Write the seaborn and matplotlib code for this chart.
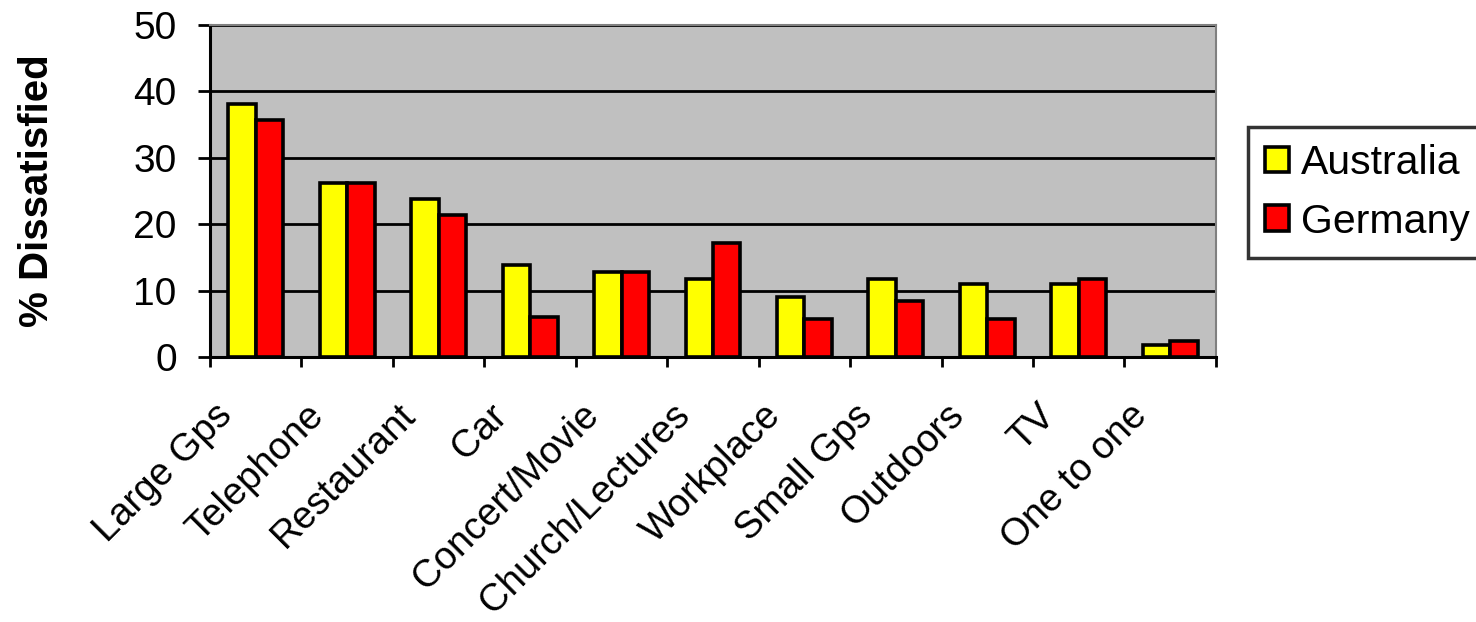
import matplotlib
matplotlib.use("Agg")
import matplotlib.pyplot as plt
import matplotlib.transforms as mtransforms
import numpy as np
import pandas as pd
import seaborn as sns

# Survey results: share of respondents dissatisfied with hearing in each situation
locations = ["Large Gps", "Telephone", "Restaurant", "Car", "Concert/Movie",
             "Church/Lectures", "Workplace", "Small Gps", "Outdoors", "TV",
             "One to one"]
australia = [38.1, 26.2, 23.8, 13.8, 12.8, 11.8, 9.0, 11.8, 11.0, 11.0, 1.8]
germany = [35.7, 26.2, 21.4, 6.1, 12.8, 17.1, 5.7, 8.5, 5.7, 11.8, 2.4]
countries = ["Australia", "Germany"]
y_ticks = [0, 10, 20, 30, 40, 50]

df = pd.DataFrame({
    "Location": locations * 2,
    "Dissatisfied": australia + germany,
    "Country": [countries[0]] * len(locations) + [countries[1]] * len(locations),
})

sns.set_style("white")
plt.rcParams["font.family"] = ["Liberation Sans", "DejaVu Sans"]
plt.rcParams["text.color"] = "black"
plt.rcParams["axes.labelcolor"] = "black"
plt.rcParams["xtick.color"] = "black"
plt.rcParams["ytick.color"] = "black"

fig = plt.figure(figsize=(14.76, 6.22), dpi=100)
ax = fig.add_axes([0.1423, 0.426, 0.8238 - 0.1423, 0.9598 - 0.426])
ax.set_facecolor("#C0C0C0")

sns.barplot(data=df, x="Location", y="Dissatisfied", hue="Country",
            hue_order=countries, order=locations,
            palette=["#FFFF00", "#FF0000"], saturation=1, width=0.6,
            edgecolor="black", linewidth=2.6, ax=ax, zorder=3)

ax.set_ylim(0, 50)
ax.set_xlim(-0.5, len(locations) - 0.5)
ax.set_yticks(y_ticks)
ax.yaxis.grid(True, color="black", linewidth=2)
ax.xaxis.grid(False)
ax.set_axisbelow(True)

for side in ["left", "bottom"]:
    ax.spines[side].set_color("black")
    ax.spines[side].set_linewidth(2.2)
for side in ["top", "right"]:
    ax.spines[side].set_color("#808080")
    ax.spines[side].set_linewidth(1.5)

# Category separators as outward tick marks
ax.set_xticks(np.arange(-0.5, len(locations), 1.0), minor=True)
ax.tick_params(axis="x", which="minor", length=7.5, width=2, direction="out",
               color="black", bottom=True)
ax.tick_params(axis="x", which="major", length=0, pad=29, labelsize=27.5,
               labelcolor="black")
ax.tick_params(axis="y", which="major", length=9, width=2, direction="out",
               color="black", left=True, pad=15, labelsize=28,
               labelcolor="black")

ax.set_xticks(range(len(locations)))
ax.set_xticklabels(locations, rotation=45, ha="right", va="top")
shift = mtransforms.ScaledTranslation(-0.16, 0, fig.dpi_scale_trans)
for lbl in ax.get_xticklabels():
    lbl.set_transform(lbl.get_transform() + shift)

ax.set_xlabel("")
ax.set_ylabel("% Dissatisfied", fontsize=29, fontweight="bold", labelpad=56,
              color="black")

handles, labels = ax.get_legend_handles_labels()
if ax.get_legend() is not None:
    ax.get_legend().remove()
leg = fig.legend(handles, labels, loc="upper left",
                 bbox_to_anchor=(0.8455, 0.796), fontsize=29.5,
                 frameon=True, fancybox=False, edgecolor="black",
                 handlelength=0.58, handleheight=0.58, handletextpad=0.3,
                 labelspacing=0.5, borderpad=0.42, borderaxespad=0)
leg.get_frame().set_linewidth(2.5)
leg.get_frame().set_facecolor("white")
for h in leg.legend_handles:
    h.set_linewidth(2.6)
    h.set_edgecolor("black")

fig.savefig("out.png", dpi=100, facecolor="white")
